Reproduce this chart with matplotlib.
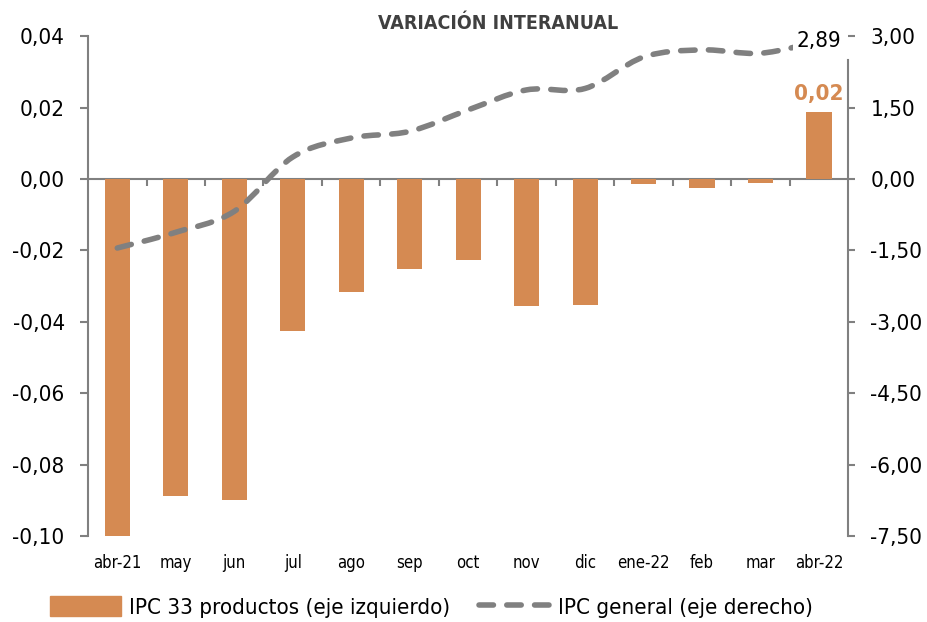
import numpy as np
import matplotlib.pyplot as plt
from matplotlib.path import Path
from matplotlib.patches import PathPatch, Patch
from matplotlib.lines import Line2D
from matplotlib.ticker import FuncFormatter

plt.rcParams['font.family'] = ['DejaVu Sans']
plt.rcParams['font.stretch'] = 'condensed'

meses = ["abr-21", "may", "jun", "jul", "ago", "sep", "oct", "nov", "dic",
         "ene-22", "feb", "mar", "abr-22"]
ipc_33 = [-0.1005, -0.0887, -0.0899, -0.0426, -0.0317, -0.0253, -0.0228,
          -0.0356, -0.0353, -0.0014, -0.0024, -0.0011, 0.0187]
ipc_general = [-1.45, -1.12, -0.68, 0.46, 0.86, 1.00, 1.45, 1.87, 1.90,
               2.56, 2.71, 2.64, 2.89]

naranja = "#D58A52"
gris = "#808080"


def coma(v, pos=None):
    return f"{v:.2f}".replace(".", ",")


def curva_suave(xs, ys):
    # cubic bezier through the points (like Excel's smoothed line)
    pts = np.column_stack([xs, ys]).astype(float)
    verts = [pts[0]]
    codes = [Path.MOVETO]
    n = len(pts)
    for i in range(n - 1):
        p0 = pts[max(i - 1, 0)]
        p1 = pts[i]
        p2 = pts[i + 1]
        p3 = pts[min(i + 2, n - 1)]
        c1 = p1 + (p2 - p0) / 6
        c2 = p2 - (p3 - p1) / 6
        verts += [c1, c2, p2]
        codes += [Path.CURVE4] * 3
    return Path(verts, codes)


fig = plt.figure(figsize=(9.27, 6.22), dpi=100)
ax = fig.add_axes([0.095, 0.138, 0.82, 0.804])
x = np.arange(len(meses))

ax.bar(x, ipc_33, width=0.43, color=naranja, zorder=2)
ax.set_xlim(-0.5, len(meses) - 0.5)
ax.set_ylim(-0.10, 0.04)
ax.set_yticks(np.arange(-0.10, 0.041, 0.02))
ax.yaxis.set_major_formatter(FuncFormatter(coma))
ax.set_xticks(x)
ax.set_xticklabels(meses)
ax.tick_params(axis="x", length=0, labelsize=12, pad=13)
ax.tick_params(axis="y", labelsize=16, length=5.8, width=1.5, color=gris, pad=11)
for s in ["top", "right", "bottom"]:
    ax.spines[s].set_visible(False)
ax.spines["left"].set_color(gris)
ax.spines["left"].set_linewidth(1.5)

# zero line with category separators
ax.axhline(0, color=gris, lw=1.5, zorder=1)
cero = ax.secondary_xaxis(0, transform=ax.transData)
cero.set_xticks(np.arange(0.5, len(meses) - 1, 1.0))
cero.tick_params(length=5, width=1.5, color=gris, labelbottom=False)
cero.spines["bottom"].set_visible(False)

ax.annotate(coma(ipc_33[-1]), (x[-1], ipc_33[-1]), xytext=(0, 6),
            textcoords="offset points", ha="center", va="bottom",
            fontsize=16, fontweight="bold", color=naranja)

ax2 = ax.twinx()
ax2.set_ylim(-7.5, 3.0)
ax2.set_yticks(np.arange(-7.5, 3.01, 1.5))
ax2.yaxis.set_major_formatter(FuncFormatter(coma))
ax2.tick_params(axis="y", labelsize=16, length=5, width=1.5, color=gris, pad=11)
for s in ["top", "left", "bottom"]:
    ax2.spines[s].set_visible(False)
ax2.spines["right"].set_color(gris)
ax2.spines["right"].set_linewidth(1.5)
ax2.spines["right"].set_bounds(-7.5, 2.5)

linea = PathPatch(curva_suave(x, ipc_general), fill=False, edgecolor=gris,
                  lw=4, linestyle=(0, (2.6, 2.4)), capstyle="round",
                  transform=ax2.transData)
ax2.add_patch(linea)
ax2.annotate(coma(ipc_general[-1]), (x[-1], ipc_general[-1]),
             ha="center", va="center", fontsize=16, color="black",
             bbox=dict(boxstyle="square,pad=0.15", fc="white", ec="none"))

fig.text(0.537, 0.963, "VARIACIÓN INTERANUAL", ha="center", va="center",
         fontsize=14, fontweight="bold", color="#404040")

handles = [Patch(color=naranja),
           Line2D([], [], color=gris, lw=4, linestyle=(0, (2.6, 2.4)),
                  dash_capstyle="round")]
fig.legend(handles, ["IPC 33 productos (eje izquierdo)", "IPC general (eje derecho)"],
           loc="center", bbox_to_anchor=(0.465, 0.024), ncol=2, frameon=False,
           fontsize=16, handlelength=3.2, handleheight=1.0, columnspacing=1.3,
           handletextpad=0.35)

fig.savefig("out.png", dpi=100)
